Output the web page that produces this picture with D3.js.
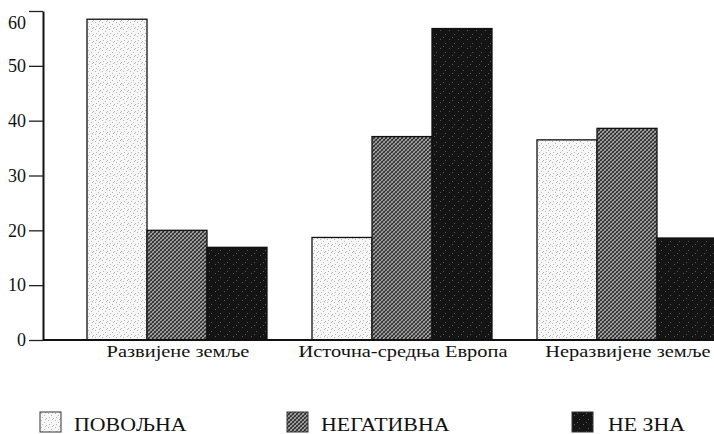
<!DOCTYPE html>
<html>
<head>
<meta charset="utf-8">
<script src="https://cdn.jsdelivr.net/npm/d3@7"></script>
<style>
  body { margin: 0; background: #fff; }
</style>
</head>
<body>
<div id="chart"></div>
<script>
const categories = ["Развијене земље", "Источна-средња Европа", "Неразвијене земље"];
const series = ["ПОВОЉНА", "НЕГАТИВНА", "НЕ ЗНА"];
const povoljna = [58.5, 18.7, 36.5];
const negativna = [20, 37.1, 38.6];
const neZna = [16.9, 56.8, 18.6];
const yTicks = [0, 10, 20, 30, 40, 50, 60];

const width = 714, height = 434;
const margin = { top: 11, left: 43, bottom: 94 };
const stretch = 1.2; // scan looks wider than the font
const legendX = [40, 287, 572];
const serif = "'Liberation Serif'";

const svg = d3.select("#chart").append("svg")
    .attr("width", width)
    .attr("height", height);

svg.append("rect").attr("width", width).attr("height", height).attr("fill", "#fff");

// fill patterns to mimic the printed screens
const defs = svg.append("defs");

const pLight = defs.append("pattern").attr("id", "p0")
    .attr("patternUnits", "userSpaceOnUse").attr("width", 7).attr("height", 7);
pLight.append("rect").attr("width", 7).attr("height", 7).attr("fill", "#f7f7f7");
[[1, 1], [4, 3], [2, 5], [6, 6], [5, 0]].forEach(([x, y]) =>
    pLight.append("rect").attr("x", x).attr("y", y).attr("width", 1).attr("height", 1).attr("fill", "#b5b5b5"));

const pGray = defs.append("pattern").attr("id", "p1")
    .attr("patternUnits", "userSpaceOnUse").attr("width", 4).attr("height", 4);
pGray.append("rect").attr("width", 4).attr("height", 4).attr("fill", "#a8a8a8");
pGray.append("path").attr("d", "M0,4L4,0M-1,1L1,-1M3,5L5,3").attr("stroke", "#2a2a2a").attr("stroke-width", 1.2);
pGray.append("path").attr("d", "M0,0L4,4M-1,3L1,5M3,-1L5,1").attr("stroke", "#4a4a4a").attr("stroke-width", 1);

const pBlack = defs.append("pattern").attr("id", "p2")
    .attr("patternUnits", "userSpaceOnUse").attr("width", 9).attr("height", 9);
pBlack.append("rect").attr("width", 9).attr("height", 9).attr("fill", "#141414");
[[2, 3], [7, 7], [5, 1]].forEach(([x, y]) =>
    pBlack.append("rect").attr("x", x).attr("y", y).attr("width", 1).attr("height", 1).attr("fill", "#5a5a5a"));

const fills = ["url(#p0)", "url(#p1)", "url(#p2)"];

const x = d3.scaleBand()
    .domain(categories)
    .range([margin.left - 1, margin.left - 1 + 720])
    .paddingInner(0.2)
    .paddingOuter(0.2);

const xs = d3.scaleBand()
    .domain(series)
    .range([0, x.bandwidth()]);

const y = d3.scaleLinear()
    .domain([0, 60])
    .range([height - margin.bottom, margin.top]);

const values = [povoljna, negativna, neZna];
const rows = categories.map((c, i) => ({
    cat: c,
    vals: series.map((s, j) => ({ s, j, v: values[j][i] }))
}));

// bars
const groups = svg.append("g").selectAll("g")
    .data(rows)
    .join("g")
    .attr("transform", d => `translate(${x(d.cat)},0)`);

groups.selectAll("rect")
    .data(d => d.vals)
    .join("rect")
    .attr("x", d => xs(d.s))
    .attr("y", d => y(d.v))
    .attr("width", xs.bandwidth())
    .attr("height", d => y(0) - y(d.v))
    .attr("fill", d => fills[d.j])
    .attr("stroke", "#111")
    .attr("stroke-width", 1.3);

// y axis
const yAxisG = svg.append("g")
    .attr("transform", `translate(${margin.left},0)`)
    .call(d3.axisLeft(y).tickValues(yTicks).tickSize(14).tickPadding(3).tickSizeOuter(0));
yAxisG.select(".domain").attr("stroke", "#111").attr("stroke-width", 2);
yAxisG.selectAll(".tick line").attr("stroke", "#222").attr("stroke-width", 1.3);
yAxisG.selectAll(".tick text")
    .style("font-family", serif)
    .style("font-size", "18px")
    .attr("fill", "#111")
    .attr("dy", d => d === 60 ? "0.95em" : "0.32em");

// baseline
svg.append("line")
    .attr("x1", margin.left).attr("x2", width)
    .attr("y1", y(0)).attr("y2", y(0))
    .attr("stroke", "#111").attr("stroke-width", 2);

// category labels
svg.append("g").selectAll("text")
    .data(categories)
    .join("text")
    .attr("x", d => x(d) + x.bandwidth() / 2 + 1)
    .attr("y", y(0) + 17)
    .attr("text-anchor", "middle")
    .style("font-family", serif)
    .style("font-size", "17px")
    .attr("fill", "#111")
    .text(d => d)
    .each(function () {
        const w = this.getComputedTextLength();
        d3.select(this).attr("textLength", w * stretch).attr("lengthAdjust", "spacingAndGlyphs");
    });

// legend
const legend = svg.append("g").selectAll("g")
    .data(series)
    .join("g")
    .attr("transform", (d, i) => `translate(${legendX[i]},412)`);

legend.append("rect")
    .attr("width", 21).attr("height", 20)
    .attr("fill", (d, i) => fills[i])
    .attr("stroke", "#333").attr("stroke-width", 1);

legend.append("text")
    .attr("x", (d, i) => i === 2 ? 36 : 34)
    .attr("y", 19)
    .style("font-family", serif)
    .style("font-size", "19px")
    .attr("fill", "#111")
    .text(d => d)
    .each(function () {
        const w = this.getComputedTextLength();
        d3.select(this).attr("textLength", w * 1.15).attr("lengthAdjust", "spacingAndGlyphs");
    });
</script>
</body>
</html>
